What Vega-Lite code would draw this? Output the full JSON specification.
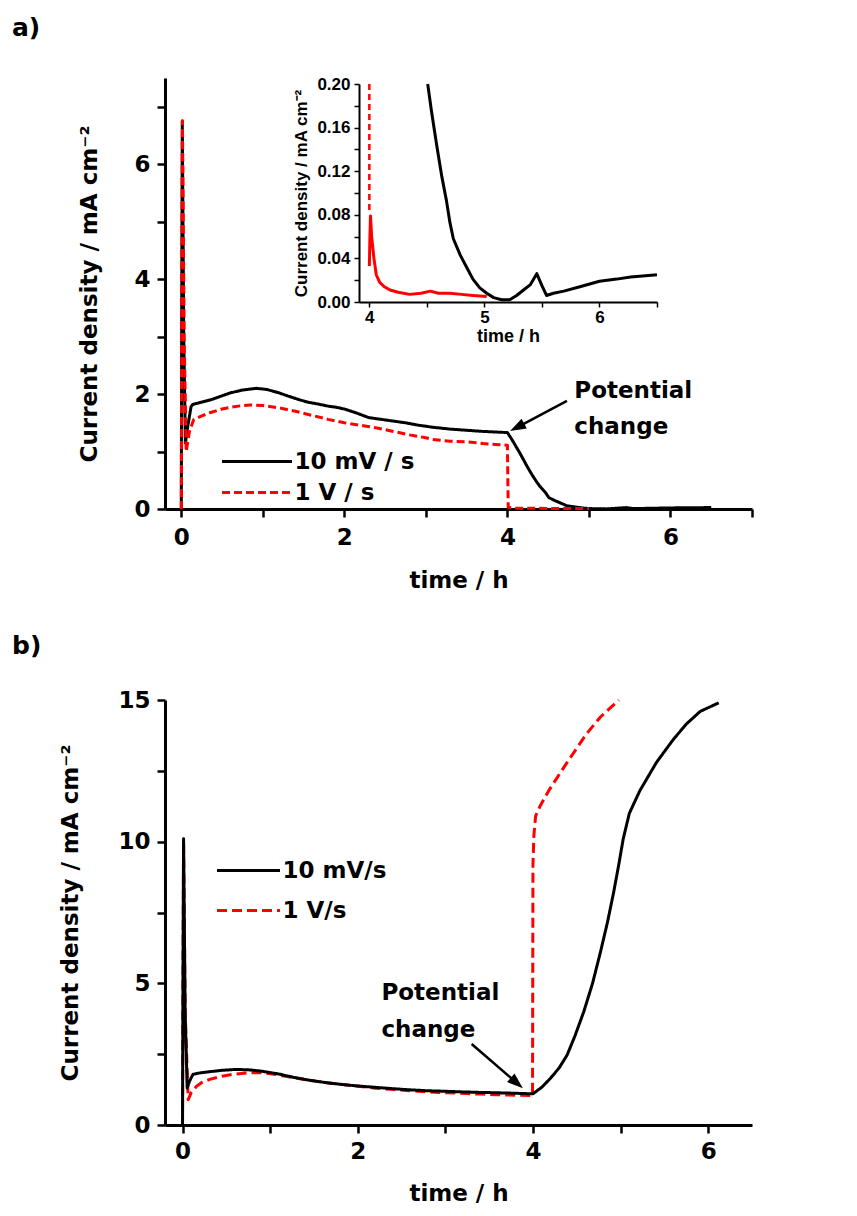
{
  "$schema": "https://vega.github.io/schema/vega-lite/v6.json",
  "background": "white",
  "padding": {"left": 12, "top": 16, "right": 5, "bottom": 5},
  "spacing": 42,
  "config": {
    "view": {"stroke": null},
    "font": "DejaVu Sans",
    "axis": {
      "grid": false, "domainColor": "black", "tickColor": "black", "labelColor": "black", "titleColor": "black",
      "labelFont": "DejaVu Sans", "titleFont": "DejaVu Sans", "labelFontWeight": "bold", "titleFontWeight": "bold",
      "labelFontSize": 23, "titleFontSize": 23, "tickSize": 8, "tickWidth": 2.5, "domainWidth": 3,
      "labelFlush": false, "labelOverlap": false
    },
    "title": {"font": "DejaVu Sans", "fontWeight": "bold", "fontSize": 25, "color": "black", "anchor": "start", "frame": "group"}
  },
  "datasets": {
    "aBlack": [
      {"s":"10 mV / s","t":0,"v":0},{"s":"10 mV / s","t":0.005,"v":3.5},{"s":"10 mV / s","t":0.012,"v":6.75},{"s":"10 mV / s","t":0.03,"v":3.0},
      {"s":"10 mV / s","t":0.05,"v":1.15},{"s":"10 mV / s","t":0.08,"v":1.45},{"s":"10 mV / s","t":0.12,"v":1.78},{"s":"10 mV / s","t":0.14,"v":1.82},
      {"s":"10 mV / s","t":0.25,"v":1.86},{"s":"10 mV / s","t":0.36,"v":1.9},{"s":"10 mV / s","t":0.5,"v":1.97},{"s":"10 mV / s","t":0.6,"v":2.02},
      {"s":"10 mV / s","t":0.75,"v":2.07},{"s":"10 mV / s","t":0.92,"v":2.1},{"s":"10 mV / s","t":1.05,"v":2.08},{"s":"10 mV / s","t":1.2,"v":2.02},
      {"s":"10 mV / s","t":1.3,"v":1.97},{"s":"10 mV / s","t":1.45,"v":1.9},{"s":"10 mV / s","t":1.55,"v":1.86},{"s":"10 mV / s","t":1.7,"v":1.82},
      {"s":"10 mV / s","t":1.8,"v":1.79},{"s":"10 mV / s","t":1.9,"v":1.77},{"s":"10 mV / s","t":2.0,"v":1.74},{"s":"10 mV / s","t":2.15,"v":1.67},
      {"s":"10 mV / s","t":2.3,"v":1.59},{"s":"10 mV / s","t":2.45,"v":1.56},{"s":"10 mV / s","t":2.6,"v":1.53},{"s":"10 mV / s","t":2.75,"v":1.5},
      {"s":"10 mV / s","t":2.9,"v":1.46},{"s":"10 mV / s","t":3.1,"v":1.42},{"s":"10 mV / s","t":3.3,"v":1.39},{"s":"10 mV / s","t":3.5,"v":1.37},
      {"s":"10 mV / s","t":3.7,"v":1.35},{"s":"10 mV / s","t":3.85,"v":1.34},{"s":"10 mV / s","t":4.0,"v":1.33},{"s":"10 mV / s","t":4.05,"v":1.22},
      {"s":"10 mV / s","t":4.1,"v":1.1},{"s":"10 mV / s","t":4.15,"v":0.98},{"s":"10 mV / s","t":4.2,"v":0.85},{"s":"10 mV / s","t":4.25,"v":0.72},
      {"s":"10 mV / s","t":4.3,"v":0.6},{"s":"10 mV / s","t":4.35,"v":0.49},{"s":"10 mV / s","t":4.4,"v":0.39},{"s":"10 mV / s","t":4.47,"v":0.28},
      {"s":"10 mV / s","t":4.507,"v":0.2},{"s":"10 mV / s","t":4.585,"v":0.144},{"s":"10 mV / s","t":4.67,"v":0.093},{"s":"10 mV / s","t":4.73,"v":0.056},
      {"s":"10 mV / s","t":4.85,"v":0.031},{"s":"10 mV / s","t":4.96,"v":0.012},{"s":"10 mV / s","t":5.08,"v":0.004},{"s":"10 mV / s","t":5.22,"v":0.002},
      {"s":"10 mV / s","t":5.46,"v":0.025},{"s":"10 mV / s","t":5.54,"v":0.007},{"s":"10 mV / s","t":6.0,"v":0.019},{"s":"10 mV / s","t":6.5,"v":0.025}
    ],
    "aRed": [
      {"s":"1 V / s","t":0,"v":0},{"s":"1 V / s","t":0.006,"v":3.5},{"s":"1 V / s","t":0.014,"v":6.75},{"s":"1 V / s","t":0.035,"v":3.0},
      {"s":"1 V / s","t":0.06,"v":1.0},{"s":"1 V / s","t":0.1,"v":1.35},{"s":"1 V / s","t":0.15,"v":1.55},{"s":"1 V / s","t":0.25,"v":1.62},
      {"s":"1 V / s","t":0.36,"v":1.68},{"s":"1 V / s","t":0.5,"v":1.74},{"s":"1 V / s","t":0.6,"v":1.77},{"s":"1 V / s","t":0.75,"v":1.8},
      {"s":"1 V / s","t":0.85,"v":1.81},{"s":"1 V / s","t":1.0,"v":1.8},{"s":"1 V / s","t":1.2,"v":1.76},{"s":"1 V / s","t":1.4,"v":1.7},
      {"s":"1 V / s","t":1.6,"v":1.63},{"s":"1 V / s","t":1.8,"v":1.56},{"s":"1 V / s","t":2.0,"v":1.5},{"s":"1 V / s","t":2.27,"v":1.44},
      {"s":"1 V / s","t":2.4,"v":1.41},{"s":"1 V / s","t":2.6,"v":1.35},{"s":"1 V / s","t":2.8,"v":1.29},{"s":"1 V / s","t":3.0,"v":1.24},
      {"s":"1 V / s","t":3.08,"v":1.21},{"s":"1 V / s","t":3.3,"v":1.18},{"s":"1 V / s","t":3.5,"v":1.17},{"s":"1 V / s","t":3.7,"v":1.14},
      {"s":"1 V / s","t":3.9,"v":1.12},{"s":"1 V / s","t":4.0,"v":1.11},{"s":"1 V / s","t":4.005,"v":0.5},{"s":"1 V / s","t":4.01,"v":0.03},
      {"s":"1 V / s","t":4.1,"v":0.015},{"s":"1 V / s","t":4.5,"v":0.01},{"s":"1 V / s","t":5.0,"v":0.008}
    ],
    "aNote": [{"t":4.82,"v":2.05,"label":"Potential"},{"t":4.82,"v":1.43,"label":"change"}],
    "aArrow": [{"t":4.73,"v":1.88,"t2":4.119,"v2":1.421}],
    "insetBlack": [
      {"t":4.507,"v":0.2},{"t":4.54,"v":0.175},{"t":4.585,"v":0.144},{"t":4.63,"v":0.115},{"t":4.67,"v":0.093},{"t":4.7,"v":0.073},
      {"t":4.73,"v":0.058},{"t":4.79,"v":0.043},{"t":4.85,"v":0.031},{"t":4.9,"v":0.021},{"t":4.96,"v":0.013},{"t":5.02,"v":0.008},
      {"t":5.08,"v":0.004},{"t":5.15,"v":0.002},{"t":5.22,"v":0.002},{"t":5.28,"v":0.006},{"t":5.34,"v":0.011},{"t":5.4,"v":0.016},
      {"t":5.455,"v":0.026},{"t":5.5,"v":0.015},{"t":5.54,"v":0.006},{"t":5.6,"v":0.008},{"t":5.69,"v":0.01},{"t":5.83,"v":0.014},
      {"t":6.0,"v":0.019},{"t":6.15,"v":0.021},{"t":6.27,"v":0.023},{"t":6.4,"v":0.024},{"t":6.5,"v":0.025}
    ],
    "insetRedDash": [{"t":4.0,"v":0.2},{"t":4.0,"v":0.082}],
    "insetRed": [
      {"t":4.0,"v":0.033},{"t":4.005,"v":0.06},{"t":4.01,"v":0.079},{"t":4.02,"v":0.06},{"t":4.04,"v":0.04},{"t":4.06,"v":0.025},
      {"t":4.09,"v":0.018},{"t":4.13,"v":0.014},{"t":4.18,"v":0.011},{"t":4.25,"v":0.009},{"t":4.35,"v":0.007},{"t":4.45,"v":0.008},
      {"t":4.53,"v":0.01},{"t":4.6,"v":0.008},{"t":4.7,"v":0.008},{"t":4.8,"v":0.007},{"t":4.9,"v":0.006},{"t":5.02,"v":0.005}
    ],
    "bBlack": [
      {"s":"10 mV/s","t":0,"v":0},{"s":"10 mV/s","t":0.005,"v":5},{"s":"10 mV/s","t":0.012,"v":10.1},{"s":"10 mV/s","t":0.03,"v":4},
      {"s":"10 mV/s","t":0.053,"v":1.31},{"s":"10 mV/s","t":0.08,"v":1.55},{"s":"10 mV/s","t":0.12,"v":1.79},{"s":"10 mV/s","t":0.2,"v":1.84},
      {"s":"10 mV/s","t":0.31,"v":1.88},{"s":"10 mV/s","t":0.45,"v":1.93},{"s":"10 mV/s","t":0.6,"v":1.96},{"s":"10 mV/s","t":0.75,"v":1.95},
      {"s":"10 mV/s","t":0.9,"v":1.9},{"s":"10 mV/s","t":1.1,"v":1.8},{"s":"10 mV/s","t":1.27,"v":1.68},{"s":"10 mV/s","t":1.45,"v":1.58},
      {"s":"10 mV/s","t":1.65,"v":1.49},{"s":"10 mV/s","t":1.85,"v":1.42},{"s":"10 mV/s","t":2.03,"v":1.37},{"s":"10 mV/s","t":2.2,"v":1.33},
      {"s":"10 mV/s","t":2.41,"v":1.28},{"s":"10 mV/s","t":2.6,"v":1.24},{"s":"10 mV/s","t":2.79,"v":1.21},{"s":"10 mV/s","t":3.0,"v":1.19},
      {"s":"10 mV/s","t":3.18,"v":1.17},{"s":"10 mV/s","t":3.4,"v":1.15},{"s":"10 mV/s","t":3.56,"v":1.14},{"s":"10 mV/s","t":3.8,"v":1.12},
      {"s":"10 mV/s","t":4.0,"v":1.1},{"s":"10 mV/s","t":4.1,"v":1.33},{"s":"10 mV/s","t":4.2,"v":1.65},{"s":"10 mV/s","t":4.3,"v":2.02},
      {"s":"10 mV/s","t":4.39,"v":2.47},{"s":"10 mV/s","t":4.48,"v":3.15},{"s":"10 mV/s","t":4.58,"v":4.0},{"s":"10 mV/s","t":4.68,"v":5.0},
      {"s":"10 mV/s","t":4.77,"v":6.1},{"s":"10 mV/s","t":4.85,"v":7.15},{"s":"10 mV/s","t":4.92,"v":8.2},{"s":"10 mV/s","t":4.98,"v":9.2},
      {"s":"10 mV/s","t":5.03,"v":10.1},{"s":"10 mV/s","t":5.1,"v":11.0},
      {"s":"10 mV/s","t":5.22,"v":11.8},{"s":"10 mV/s","t":5.41,"v":12.8},{"s":"10 mV/s","t":5.6,"v":13.6},{"s":"10 mV/s","t":5.75,"v":14.15},
      {"s":"10 mV/s","t":5.91,"v":14.6},{"s":"10 mV/s","t":6.12,"v":14.9}
    ],
    "bRed": [
      {"s":"1 V/s","t":0,"v":0},{"s":"1 V/s","t":0.005,"v":5},{"s":"1 V/s","t":0.012,"v":10.0},{"s":"1 V/s","t":0.03,"v":4},
      {"s":"1 V/s","t":0.065,"v":0.89},{"s":"1 V/s","t":0.1,"v":1.15},{"s":"1 V/s","t":0.16,"v":1.37},{"s":"1 V/s","t":0.22,"v":1.5},
      {"s":"1 V/s","t":0.31,"v":1.61},{"s":"1 V/s","t":0.45,"v":1.72},{"s":"1 V/s","t":0.58,"v":1.79},{"s":"1 V/s","t":0.75,"v":1.84},
      {"s":"1 V/s","t":0.89,"v":1.85},{"s":"1 V/s","t":1.05,"v":1.79},{"s":"1 V/s","t":1.27,"v":1.67},{"s":"1 V/s","t":1.45,"v":1.58},
      {"s":"1 V/s","t":1.65,"v":1.49},{"s":"1 V/s","t":1.85,"v":1.42},{"s":"1 V/s","t":2.03,"v":1.36},{"s":"1 V/s","t":2.2,"v":1.3},
      {"s":"1 V/s","t":2.41,"v":1.25},{"s":"1 V/s","t":2.6,"v":1.21},{"s":"1 V/s","t":2.79,"v":1.17},{"s":"1 V/s","t":3.0,"v":1.14},
      {"s":"1 V/s","t":3.18,"v":1.12},{"s":"1 V/s","t":3.4,"v":1.09},{"s":"1 V/s","t":3.56,"v":1.07},{"s":"1 V/s","t":3.8,"v":1.05},
      {"s":"1 V/s","t":3.995,"v":1.04},{"s":"1 V/s","t":4.0,"v":9.2},{"s":"1 V/s","t":4.01,"v":10.2},{"s":"1 V/s","t":4.03,"v":10.9},
      {"s":"1 V/s","t":4.08,"v":11.25},{"s":"1 V/s","t":4.18,"v":11.8},{"s":"1 V/s","t":4.39,"v":12.8},{"s":"1 V/s","t":4.61,"v":13.8},
      {"s":"1 V/s","t":4.77,"v":14.4},{"s":"1 V/s","t":4.98,"v":15.0}
    ],
    "bNote": [{"t":2.27,"v":4.66,"label":"Potential"},{"t":2.27,"v":3.35,"label":"change"}],
    "bArrow": [{"t":3.3,"v":2.86,"t2":3.816,"v2":1.48}]
  },
  "vconcat": [
    {
      "width": 587,
      "height": 431,
      "title": {"text": "a)", "dx": -153, "offset": 34},
      "layer": [
        {
          "layer": [
            {
              "data": {"name": "aBlack"},
              "mark": {"type": "line", "strokeWidth": 3, "strokeJoin": "round"},
              "encoding": {
                "x": {"field": "t", "type": "quantitative", "title": "time / h",
                      "scale": {"domain": [-0.2, 7], "nice": false, "zero": false},
                      "axis": {"values": [0,1,2,3,4,5,6,7], "labelExpr": "datum.value % 2 === 0 ? format(datum.value, 'd') : ''", "labelPadding": 9, "titlePadding": 20}},
                "y": {"field": "v", "type": "quantitative", "title": "Current density / mA cm⁻²",
                      "scale": {"domain": [0, 7.5], "nice": false},
                      "axis": {"values": [0,1,2,3,4,5,6,7], "labelExpr": "datum.value % 2 === 0 ? format(datum.value, 'd') : ''", "labelPadding": 7, "titlePadding": 32}},
                "color": {"field": "s", "type": "nominal",
                          "scale": {"domain": ["10 mV / s", "1 V / s"], "range": ["black", "#ff0000"]},
                          "legend": {"title": null, "orient": "none", "legendX": 55.5, "legendY": 371, "symbolType": "stroke", "symbolSize": 4900, "symbolStrokeWidth": 3, "clipHeight": 25, "rowPadding": 6, "labelFontSize": 23, "labelFont": "DejaVu Sans", "labelFontWeight": "bold", "labelColor": "black", "labelOffset": 1, "padding": 0, "labelLimit": 400}},
                "strokeDash": {"field": "s", "type": "nominal",
                               "scale": {"domain": ["10 mV / s", "1 V / s"], "range": [[1, 0], [8, 4]]},
                               "legend": {"title": null, "orient": "none", "legendX": 55.5, "legendY": 371, "symbolType": "stroke", "symbolSize": 4900, "symbolStrokeWidth": 3, "clipHeight": 25, "rowPadding": 6, "labelFontSize": 23, "labelFont": "DejaVu Sans", "labelFontWeight": "bold", "labelColor": "black", "labelOffset": 1, "padding": 0, "labelLimit": 400}}
              }
            },
            {
              "data": {"name": "aRed"},
              "mark": {"type": "line", "strokeWidth": 3, "strokeJoin": "round"},
              "encoding": {
                "x": {"field": "t", "type": "quantitative", "title": "time / h"},
                "y": {"field": "v", "type": "quantitative", "title": "Current density / mA cm⁻²"},
                "color": {"field": "s", "type": "nominal"},
                "strokeDash": {"field": "s", "type": "nominal"}
              }
            },
            {
              "data": {"name": "aNote"},
              "mark": {"type": "text", "align": "left", "baseline": "middle", "fontSize": 23, "fontWeight": "bold", "font": "DejaVu Sans", "color": "black"},
              "encoding": {
                "x": {"field": "t", "type": "quantitative", "title": "time / h"},
                "y": {"field": "v", "type": "quantitative", "title": "Current density / mA cm⁻²"},
                "text": {"field": "label"}
              }
            },
            {
              "data": {"name": "aArrow"},
              "mark": {"type": "rule", "strokeWidth": 2.5, "color": "black"},
              "encoding": {
                "x": {"field": "t", "type": "quantitative", "title": "time / h"},
                "y": {"field": "v", "type": "quantitative", "title": "Current density / mA cm⁻²"},
                "x2": {"field": "t2"},
                "y2": {"field": "v2"}
              }
            },
            {
              "data": {"name": "aArrow"},
              "mark": {"type": "point", "shape": "M0,-1L0.7,1L-0.7,1Z", "filled": true, "color": "black", "opacity": 1, "size": 256, "angle": 242, "strokeWidth": 0},
              "encoding": {
                "x": {"field": "t2", "type": "quantitative", "title": "time / h"},
                "y": {"field": "v2", "type": "quantitative", "title": "Current density / mA cm⁻²"}
              }
            }
          ]
        },
        {
          "layer": [
            {
              "data": {"name": "insetBlack"},
              "mark": {"type": "line", "strokeWidth": 3, "color": "black", "strokeJoin": "round"},
              "encoding": {
                "x": {"field": "t", "type": "quantitative", "title": "time / h",
                      "scale": {"domain": [3.91, 6.5], "range": [194, 492], "nice": false, "zero": false},
                      "axis": {"orient": "bottom", "offset": -207, "values": [4, 4.5, 5, 5.5, 6, 6.5],
                               "labelExpr": "datum.value % 1 === 0 ? format(datum.value, 'd') : ''",
                               "tickSize": 5, "tickWidth": 1.5, "domainWidth": 2,
                               "labelFont": "Liberation Sans", "titleFont": "Liberation Sans", "labelFontSize": 17, "titleFontSize": 18,
                               "labelPadding": 2, "titlePadding": 2}},
                "y": {"field": "v", "type": "quantitative", "title": "Current density / mA cm⁻²",
                      "scale": {"domain": [0, 0.2], "range": [224, 6], "nice": false},
                      "axis": {"orient": "left", "offset": -194, "values": [0, 0.02, 0.04, 0.06, 0.08, 0.1, 0.12, 0.14, 0.16, 0.18, 0.2],
                               "labelExpr": "round(datum.value * 100) % 4 === 0 ? format(datum.value, '.2f') : ''",
                               "tickSize": 5, "tickWidth": 1.5, "domainWidth": 2,
                               "labelFont": "Liberation Sans", "titleFont": "Liberation Sans", "labelFontSize": 17, "titleFontSize": 17,
                               "labelPadding": 4, "titlePadding": 6}}
              }
            },
            {
              "data": {"name": "insetRedDash"},
              "mark": {"type": "line", "strokeWidth": 2.5, "color": "#ff0000", "strokeDash": [6, 4]},
              "encoding": {
                "x": {"field": "t", "type": "quantitative", "title": "time / h"},
                "y": {"field": "v", "type": "quantitative", "title": "Current density / mA cm⁻²"}
              }
            },
            {
              "data": {"name": "insetRed"},
              "mark": {"type": "line", "strokeWidth": 3, "color": "#ff0000", "strokeJoin": "round"},
              "encoding": {
                "x": {"field": "t", "type": "quantitative", "title": "time / h"},
                "y": {"field": "v", "type": "quantitative", "title": "Current density / mA cm⁻²"}
              }
            }
          ]
        }
      ],
      "resolve": {"scale": {"x": "independent", "y": "independent"}, "axis": {"x": "independent", "y": "independent"}}
    },
    {
      "width": 587,
      "height": 425,
      "title": {"text": "b)", "dx": -153, "offset": 30},
      "layer": [
        {
          "data": {"name": "bRed"},
          "mark": {"type": "line", "strokeWidth": 3, "strokeJoin": "round"},
          "encoding": {
            "x": {"field": "t", "type": "quantitative", "title": "time / h",
                  "scale": {"domain": [-0.2, 6.5], "nice": false, "zero": false},
                  "axis": {"values": [0,1,2,3,4,5,6], "labelExpr": "datum.value % 2 === 0 ? format(datum.value, 'd') : ''", "labelPadding": 7, "titlePadding": 19}},
            "y": {"field": "v", "type": "quantitative", "title": "Current density / mA cm⁻²",
                  "scale": {"domain": [0, 15], "nice": false},
                  "axis": {"values": [0, 2.5, 5, 7.5, 10, 12.5, 15], "labelExpr": "datum.value % 5 === 0 ? format(datum.value, 'd') : ''", "labelPadding": 7, "titlePadding": 35}},
            "color": {"field": "s", "type": "nominal",
                      "scale": {"domain": ["10 mV/s", "1 V/s"], "range": ["black", "#ff0000"]},
                      "legend": {"title": null, "orient": "none", "legendX": 50.5, "legendY": 158, "symbolType": "stroke", "symbolSize": 3969, "symbolStrokeWidth": 3, "clipHeight": 25, "rowPadding": 15, "labelFontSize": 23, "labelFont": "DejaVu Sans", "labelFontWeight": "bold", "labelColor": "black", "labelOffset": 1, "padding": 0, "labelLimit": 400}},
            "strokeDash": {"field": "s", "type": "nominal",
                           "scale": {"domain": ["10 mV/s", "1 V/s"], "range": [[1, 0], [10, 5]]},
                           "legend": {"title": null, "orient": "none", "legendX": 50.5, "legendY": 158, "symbolType": "stroke", "symbolSize": 3969, "symbolStrokeWidth": 3, "clipHeight": 25, "rowPadding": 15, "labelFontSize": 23, "labelFont": "DejaVu Sans", "labelFontWeight": "bold", "labelColor": "black", "labelOffset": 1, "padding": 0, "labelLimit": 400}}
          }
        },
        {
          "data": {"name": "bBlack"},
          "mark": {"type": "line", "strokeWidth": 3, "strokeJoin": "round"},
          "encoding": {
            "x": {"field": "t", "type": "quantitative", "title": "time / h"},
            "y": {"field": "v", "type": "quantitative", "title": "Current density / mA cm⁻²"},
            "color": {"field": "s", "type": "nominal"},
            "strokeDash": {"field": "s", "type": "nominal"}
          }
        },
        {
          "data": {"name": "bNote"},
          "mark": {"type": "text", "align": "left", "baseline": "middle", "fontSize": 23, "fontWeight": "bold", "font": "DejaVu Sans", "color": "black"},
          "encoding": {
            "x": {"field": "t", "type": "quantitative", "title": "time / h"},
            "y": {"field": "v", "type": "quantitative", "title": "Current density / mA cm⁻²"},
            "text": {"field": "label"}
          }
        },
        {
          "data": {"name": "bArrow"},
          "mark": {"type": "rule", "strokeWidth": 2.5, "color": "black"},
          "encoding": {
            "x": {"field": "t", "type": "quantitative", "title": "time / h"},
            "y": {"field": "v", "type": "quantitative", "title": "Current density / mA cm⁻²"},
            "x2": {"field": "t2"},
            "y2": {"field": "v2"}
          }
        },
        {
          "data": {"name": "bArrow"},
          "mark": {"type": "point", "shape": "M0,-1L0.7,1L-0.7,1Z", "filled": true, "color": "black", "opacity": 1, "size": 256, "angle": 131, "strokeWidth": 0},
          "encoding": {
            "x": {"field": "t2", "type": "quantitative", "title": "time / h"},
            "y": {"field": "v2", "type": "quantitative", "title": "Current density / mA cm⁻²"}
          }
        }
      ]
    }
  ],
  "resolve": {
    "scale": {"color": "independent", "strokeDash": "independent"},
    "legend": {"color": "independent", "strokeDash": "independent"}
  }
}
